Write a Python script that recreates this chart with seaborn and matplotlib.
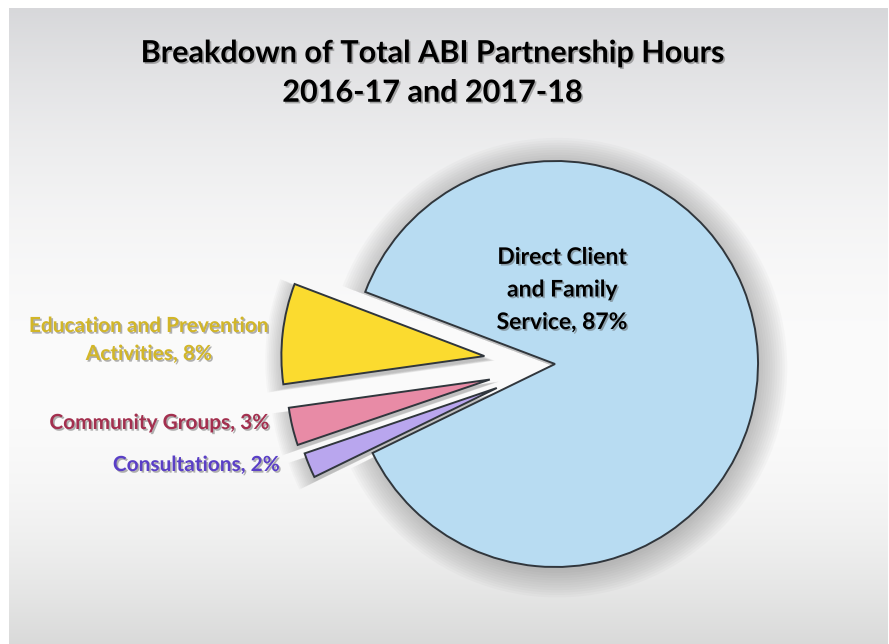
import numpy as np
import matplotlib
matplotlib.use("Agg")
import matplotlib.pyplot as plt
import matplotlib.patheffects as pe
import seaborn as sns

# Chart data
categories = ["Direct Client\nand Family\nService", "Education and Prevention\nActivities",
              "Community Groups", "Consultations"]
shares = [87, 8, 3, 2]
slice_colors = ["#b8dcf2", "#fbdb2f", "#e88ba6", "#b9a6ee"]
label_colors = ["#000000", "#d2b628", "#a3304f", "#5a3fc6"]
title = "Breakdown of Total ABI Partnership Hours\n2016-17 and 2017-18"

sns.set_theme(style="white")
plt.rcParams["font.family"] = ["Lato", "DejaVu Sans"]

W, H = 889, 644
fig = plt.figure(figsize=(W / 100, H / 100), dpi=100)
fig.patch.set_facecolor("white")

# slide background with soft gradient
bg = fig.add_axes([0, 0, 1, 1])
bg.set_xlim(0, W)
bg.set_ylim(H, 0)
bg.axis("off")
yy, xx = np.mgrid[0:H, 0:W]
mid = 380
t = np.where(yy < mid, (yy - mid) / 370.0, (yy - mid) / 264.0)
v = 251 - 34 * t ** 2
img = np.dstack([v, v + 0.5 * t ** 2, v + 3 * np.clip(-t, 0, 1) ** 2]) / 255.0
img = np.clip(img, 0, 1)
bg.imshow(img, extent=(9, W - 1, H, 8), aspect="auto", zorder=0)

# pie axes: 1 data unit = radius in pixels
R = 203.0
cx, cy = 555.0, 364.0
ax = fig.add_axes([0, 0, 1, 1])
ax.patch.set_alpha(0)
explode = [0, 0.35, 0.33, 0.31]
start = -154

# soft halo behind the wedges
for k in range(12):
    r = 1 + 0.012 * k
    ax.pie(shares, radius=r, startangle=start, counterclock=True,
           explode=[e / r for e in explode], center=(0.012, -0.018),
           colors=["#6e6e6e"] * 4, wedgeprops=dict(linewidth=0, alpha=0.04))

wedges, _ = ax.pie(shares, startangle=start, counterclock=True, explode=explode,
                   colors=slice_colors,
                   wedgeprops=dict(edgecolor="#30363c", linewidth=1.4))

ax.set_xlim(-cx / R, (W - cx) / R)
ax.set_ylim(-(H - cy) / R, cy / R)
ax.set_aspect("equal")
ax.axis("off")

shadow = [pe.withSimplePatchShadow(offset=(1.2, -1.2), shadow_rgbFace="#555555", alpha=0.45)]

fig.text(432 / W, 1 - 73 / H, title, ha="center", va="center", fontsize=22,
         fontweight="bold", color="black", linespacing=1.5, path_effects=shadow)

pct = [f"{c}, {s}%" for c, s in zip(categories, shares)]
label_pos = [(562, 290, "center"), (149, 340, "center"), (270, 423, "right"), (280, 465, "right")]
for txt, col, (px, py, ha) in zip(pct, label_colors, label_pos):
    big = col == "#000000"
    fig.text(px / W, 1 - py / H, txt, ha=ha, va="center", fontsize=16.5 if big else 15,
             fontweight="bold", color=col, linespacing=1.68 if big else 1.5,
             path_effects=shadow)

fig.savefig("out.png", dpi=100)
